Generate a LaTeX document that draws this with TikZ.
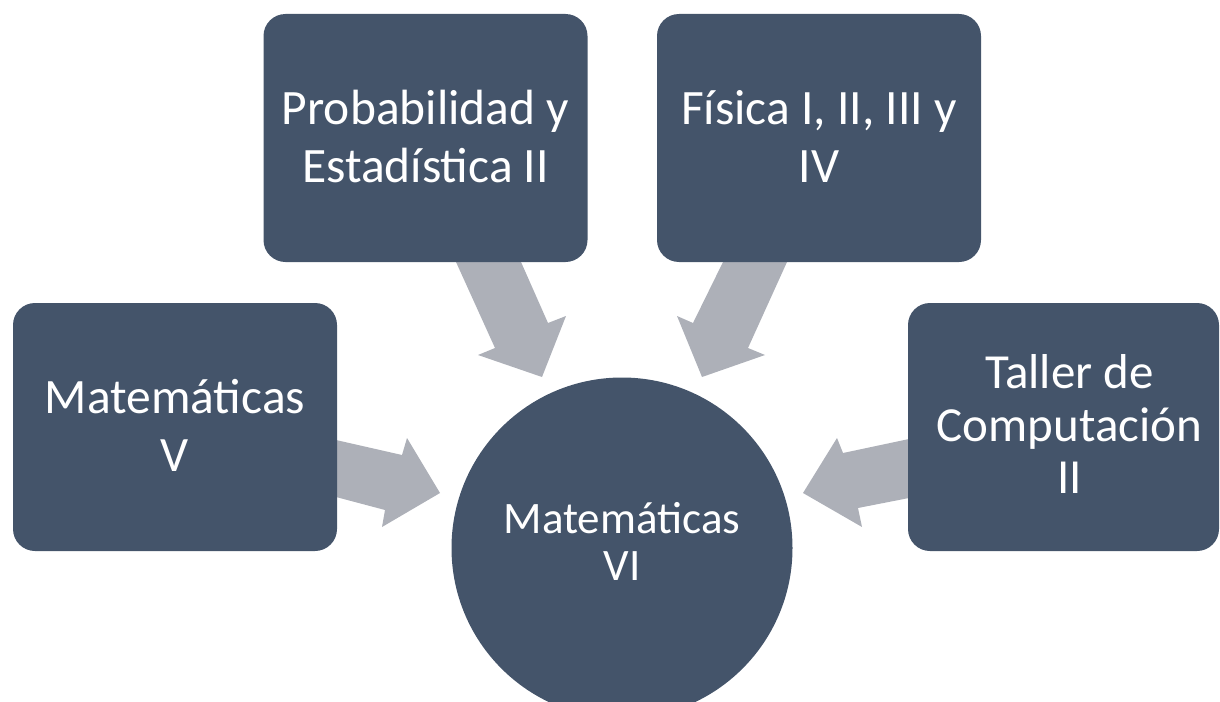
\documentclass[tikz,border=0pt]{standalone}
\usepackage{fontspec}
\setmainfont{Carlito}
\definecolor{boxblue}{RGB}{68,84,106}
\definecolor{arrowgray}{RGB}{173,176,184}
\begin{document}
\begin{tikzpicture}[x=1pt,y=-1pt,
  box/.style={fill=boxblue, rounded corners=22pt, inner sep=0pt, minimum width=324pt, minimum height=248pt},
  txt/.style={text=white, align=center, inner sep=0pt, font=\fontsize{49.5}{58}\selectfont},
  ctxt/.style={text=white, align=center, inner sep=0pt, font=\fontsize{45}{47}\selectfont},
  arr/.style={fill=arrowgray}]
\useasboundingbox (0,0) rectangle (1220,701);
\clip (0,0) rectangle (1220,701);
% arrows (drawn first, boxes cover their tails)
\fill[arr] (456,262) -- (521,262) -- (548,323) -- (566,316) -- (542,377) -- (478,355) -- (495,348) -- cycle;
\fill[arr] (723,262) -- (787,262) -- (748,348) -- (765,355) -- (702,377) -- (677,316) -- (693,323) -- cycle;
\fill[arr] (336,440) -- (402,455) -- (407,438) -- (440,493) -- (382,527) -- (385,510) -- (336,497) -- cycle;
\fill[arr] (909,439) -- (843,453) -- (837,438) -- (803,493) -- (862,527) -- (858,508) -- (909,498) -- cycle;
% boxes
\node[box] (prob) at (425.5,138) {};
\node[box] (fis) at (819,138) {};
\node[box] (matv) at (175,427) {};
\node[box, minimum width=311pt] (taller) at (1063.5,427) {};
\node[circle, fill=boxblue, minimum size=341pt, inner sep=0pt] (mvi) at (622,548) {};
% texts
\node[txt] (probT) at ([yshift=2pt]prob.center) {Probabilidad y\\Estadística II};
\node[txt] (fisT) at ([yshift=2pt]fis.center) {Física I, II, III y\\IV};
\node[txt] (matvT) at ([yshift=2pt]matv.center) {Matemáticas\\V};
\node[txt, font=\fontsize{49}{52.5}\selectfont] (tallerT) at ([xshift=6pt,yshift=3pt]taller.center) {Taller de\\Computación\\II};
\node[ctxt] (mviT) at ([yshift=7pt]mvi.center) {Matemáticas\\VI};
\end{tikzpicture}
\end{document}
